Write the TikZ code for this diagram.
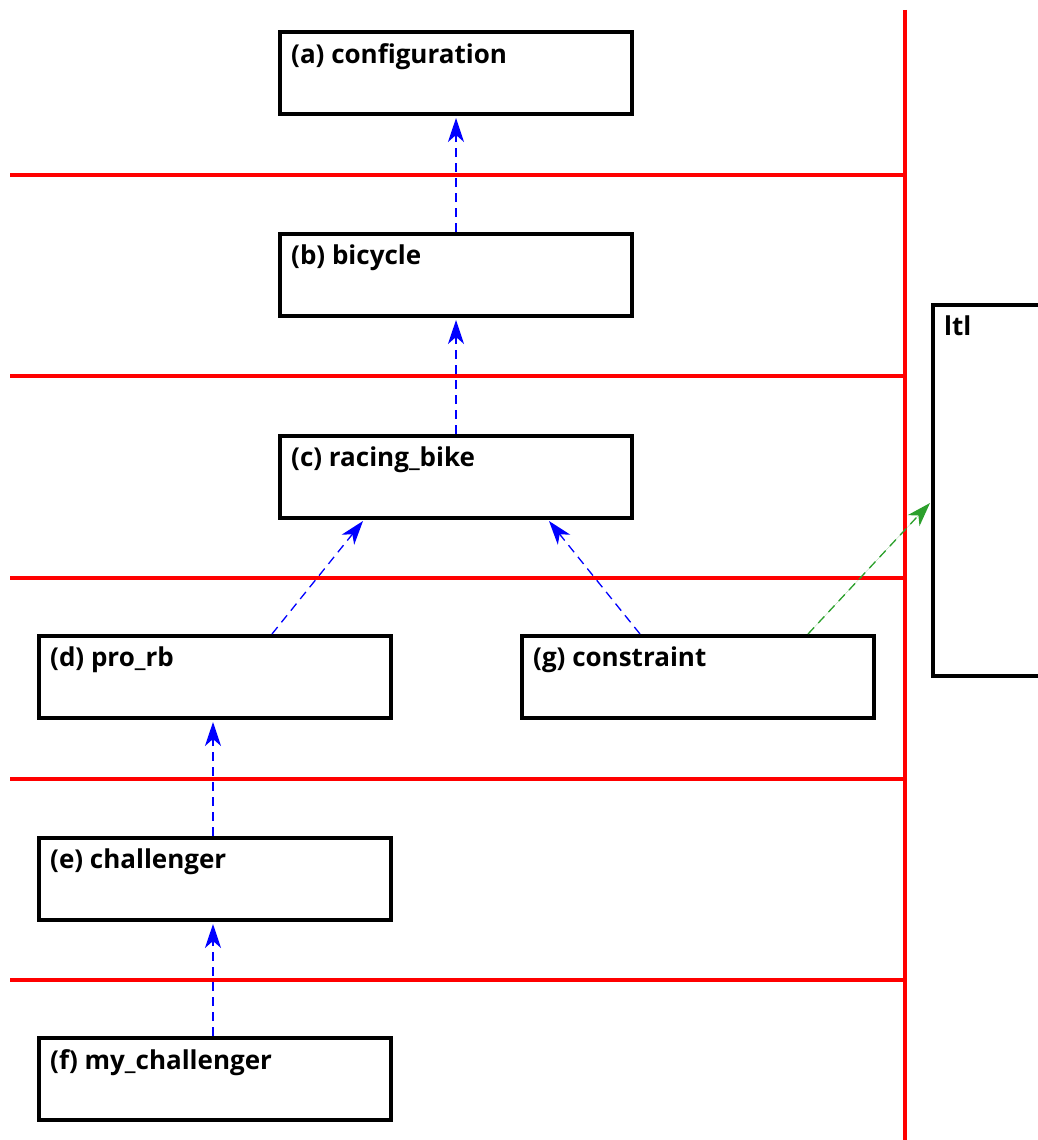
\documentclass[tikz,border=0pt]{standalone}
\usepackage{fontspec}
\setmainfont{Open Sans}
\usetikzlibrary{arrows.meta,calc}
\begin{document}
\begin{tikzpicture}[x=1pt,y=-1pt,
  box/.style={draw=black,line width=4pt,fill=white,anchor=north west,inner sep=0pt,outer sep=0pt,minimum width=352pt,minimum height=82pt},
  lbl/.style={anchor=north west,inner sep=0pt,font=\fontsize{26}{31}\selectfont\bfseries},
  sep/.style={draw=red,line width=4pt},
  dep/.style={draw=blue,line width=1.3pt,dash pattern=on 9pt off 6pt,-{Stealth[length=24pt,width=16pt,inset=7pt]}},
  gdep/.style={line width=1.3pt,dash pattern=on 9pt off 6pt,-{Stealth[length=24pt,width=16pt,inset=7pt]}}
]
\definecolor{gr}{RGB}{44,160,44}
\useasboundingbox (0,0) rectangle (1038,1140);
% separators
\coordinate (v1) at (905,10); \coordinate (v2) at (905,1140);
\foreach \yy/\nm in {175/h1,376/h2,578/h3,779/h4,980/h5}{
  \coordinate (\nm a) at (10,\yy); \coordinate (\nm b) at (905,\yy);
  \draw[sep] (\nm a) -- (\nm b);
}
\draw[sep] (v1) -- (v2);
% boxes
\node[box] (a) at (280,32) {};
\node[box] (b) at (280,234) {};
\node[box] (c) at (280,436) {};
\node[box] (d) at (39,636) {};
\node[box] (g) at (522,636) {};
\node[box] (e) at (39,838) {};
\node[box] (f) at (39,1038) {};
\node[box,minimum width=130pt,minimum height=371pt] (l) at (933,305) {};
% labels
\node[lbl] (ta) at ($(a.north west)+(11,11)$) {(a) configuration};
\node[lbl] (tb) at ($(b.north west)+(11,11)$) {(b) bicycle};
\node[lbl] (tc) at ($(c.north west)+(11,11)$) {(c) racing\_bike};
\node[lbl] (td) at ($(d.north west)+(11,11)$) {(d) pro\_rb};
\node[lbl] (tg) at ($(g.north west)+(11,11)$) {(g) constraint};
\node[lbl] (te) at ($(e.north west)+(11,11)$) {(e) challenger};
\node[lbl] (tf) at ($(f.north west)+(11,11)$) {(f) my\_challenger};
\node[lbl] (tl) at ($(l.north west)+(11,11)$) {ltl};
% connectors
\draw[dep] ($(b.north west)+(176,-2)$) -- ($(a.south west)+(176,4)$);
\draw[dep] ($(c.north west)+(176,-2)$) -- ($(b.south west)+(176,4)$);
\draw[dep] ($(d.north west)+(233,-2)$) -- ($(c.south west)+(83,3)$);
\draw[dep] ($(g.north west)+(118,-2)$) -- ($(c.south west)+(269,3)$);
\draw[dep] ($(e.north west)+(174,-2)$) -- ($(d.south west)+(174,4)$);
\draw[dep] ($(f.north west)+(174,-2)$) -- ($(e.south west)+(174,4)$);
\draw[gdep,draw=gr,fill=gr] ($(g.north west)+(286,-2)$) -- ($(l.north west)+(-3,198)$);
\end{tikzpicture}
\end{document}
